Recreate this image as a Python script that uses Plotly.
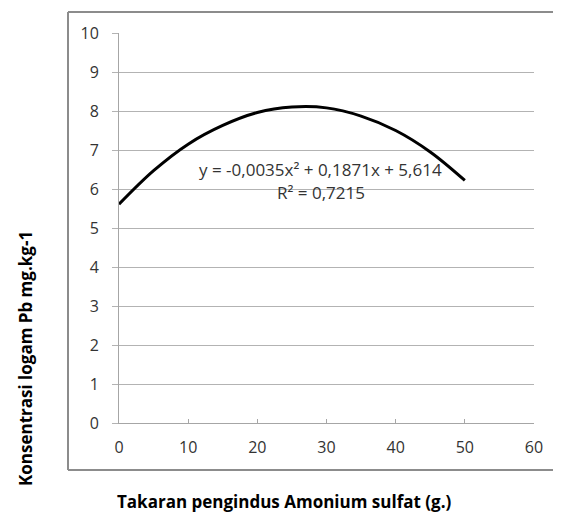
import plotly.graph_objects as go

# Trendline values
x_vals = [0, 5, 10, 15, 20, 25, 30, 35, 40, 45, 50]
y_vals = [5.61, 6.47, 7.15, 7.63, 7.96, 8.10, 8.08, 7.87, 7.50, 6.95, 6.22]

x_ticks = [0, 10, 20, 30, 40, 50, 60]
y_ticks = [0, 1, 2, 3, 4, 5, 6, 7, 8, 9, 10]

eq_text = "y = -0,0035x² + 0,1871x + 5,614"
r2_text = "R² = 0,7215"
x_title = "Takaran pengindus Amonium sulfat (g.)"
y_title = "Konsentrasi logam Pb mg.kg-1"

# page has an 8px body margin -> figure is placed at (8, 8) in the window
OFF = 8
W, H = 561 - OFF, 516 - OFF
# plot area in window px: x 119..534, y 33..423
L, T = 119 - OFF, 33 - OFF
R = W - (534 - OFF)
B = H - (423 - OFF)
pw = W - L - R
ph = H - T - B


def px_x(wx):
    return (wx - OFF - L) / pw


def px_y(wy):
    return (H - B - (wy - OFF)) / ph


fig = go.Figure()
fig.add_trace(go.Scatter(x=x_vals, y=y_vals, mode="lines",
                         line=dict(color="black", width=3, shape="spline"),
                         showlegend=False, hoverinfo="skip"))

tickfont = dict(family="Open Sans, Carlito, Calibri, sans-serif", size=16, color="#333333")
fig.update_layout(
    width=W, height=H,
    margin=dict(l=L, r=R, t=T, b=B),
    paper_bgcolor="white", plot_bgcolor="white",
    xaxis=dict(range=[0, 60], tickvals=x_ticks, showgrid=False, zeroline=False,
               showline=True, linecolor="#a6a6a6", linewidth=1,
               ticks="inside", ticklen=4, tickcolor="#a6a6a6",
               tickfont=tickfont, ticklabelstandoff=10),
    yaxis=dict(range=[0, 10], tickvals=y_ticks, showgrid=True, gridcolor="#b3b3b3",
               gridwidth=1, zeroline=False,
               showline=True, linecolor="#a6a6a6", linewidth=1,
               ticks="outside", ticklen=6, tickcolor="#b3b3b3",
               tickfont=tickfont, ticklabelstandoff=10),
)

eqfont = dict(family="Open Sans, Carlito, sans-serif", size=17, color="#333333")
fig.add_annotation(x=29.2, y=6.51, xref="x", yref="y", text=eq_text, showarrow=False,
                   font=eqfont)
fig.add_annotation(x=29.2, y=5.92, xref="x", yref="y", text=r2_text, showarrow=False,
                   font=eqfont)

titlefont = dict(family="Open Sans, Carlito, sans-serif", size=17, color="black")
fig.add_annotation(x=px_x(284), y=px_y(501), xref="paper", yref="paper", xanchor="center",
                   yanchor="middle", text="<b>" + x_title + "</b>", showarrow=False,
                   font=titlefont)
fig.add_annotation(x=px_x(25), y=px_y(359), xref="paper", yref="paper", xanchor="center",
                   yanchor="middle", text="<b>" + y_title + "</b>", showarrow=False,
                   textangle=-90, font=titlefont)

# Outer chart-area border (top, left, bottom; right side lies beyond the image)
bx0, bx1, by0, by1 = 68, 566, 12, 470
border = dict(color="#8c8c8c", width=2)
fig.add_shape(type="line", xref="paper", yref="paper", x0=px_x(bx0), x1=px_x(bx1),
              y0=px_y(by0), y1=px_y(by0), line=border)
fig.add_shape(type="line", xref="paper", yref="paper", x0=px_x(bx0), x1=px_x(bx1),
              y0=px_y(by1), y1=px_y(by1), line=border)
fig.add_shape(type="line", xref="paper", yref="paper", x0=px_x(bx0), x1=px_x(bx0),
              y0=px_y(by0), y1=px_y(by1), line=border)

fig.write_html("out.html")
